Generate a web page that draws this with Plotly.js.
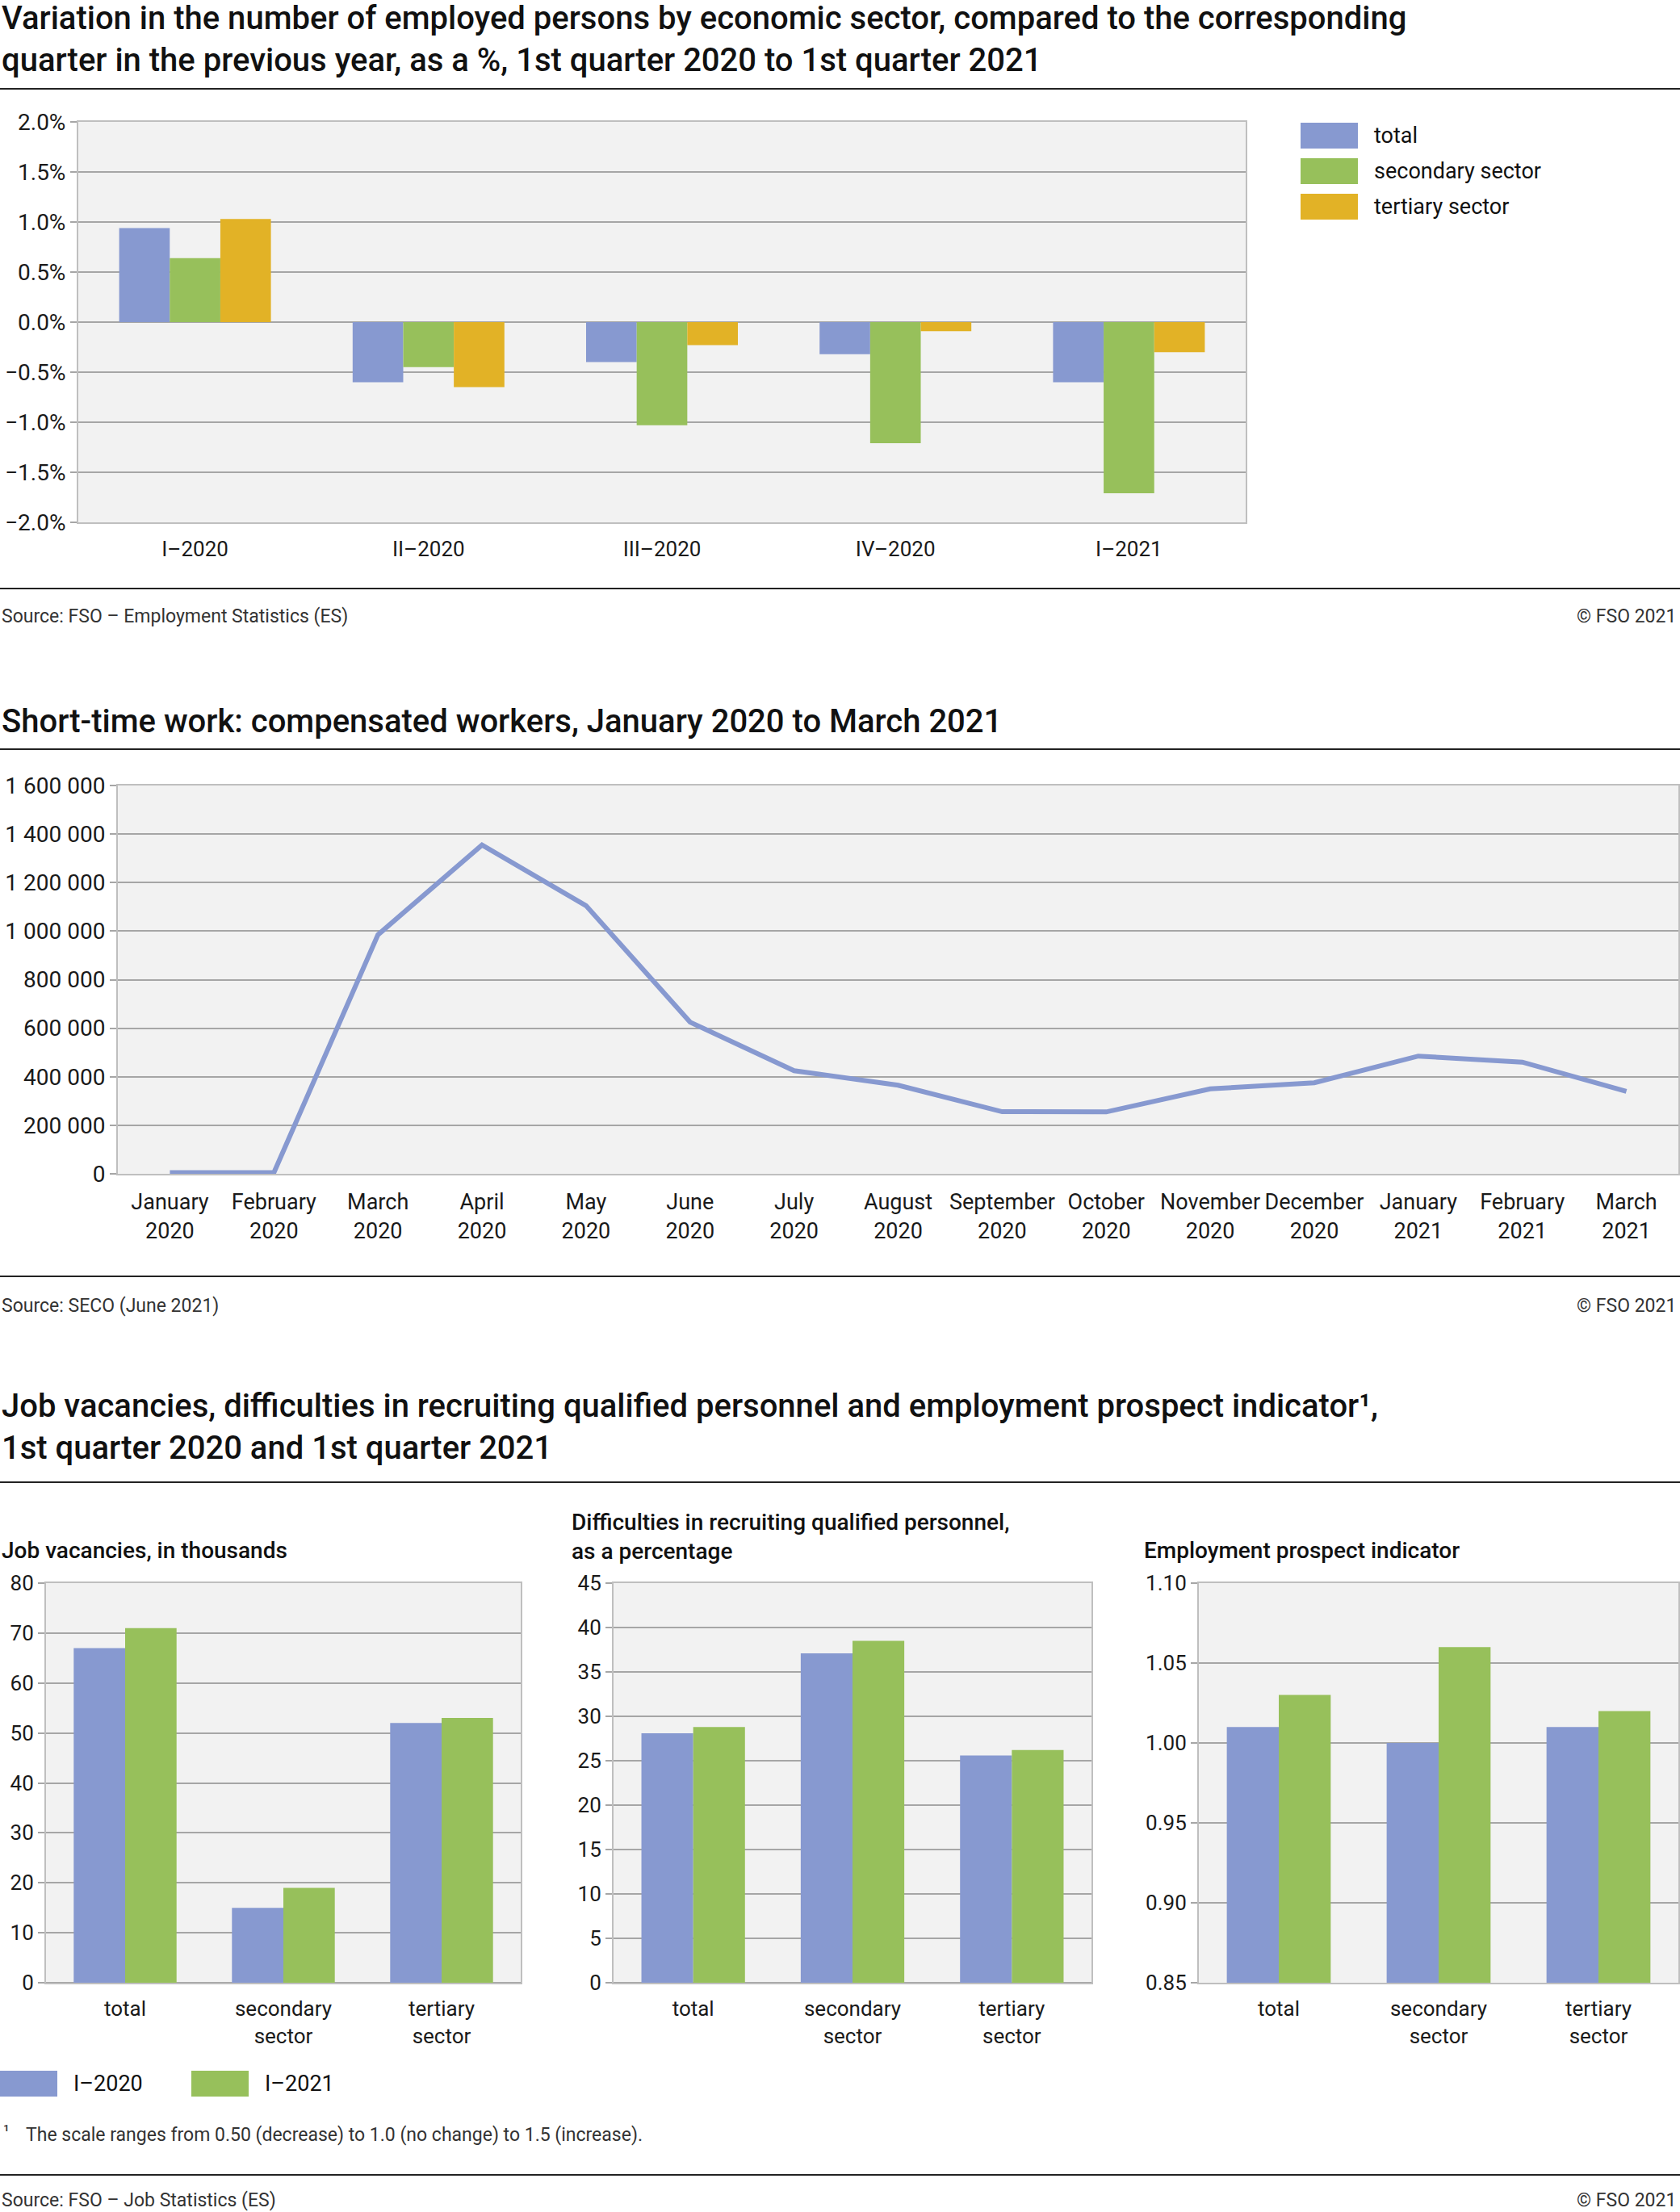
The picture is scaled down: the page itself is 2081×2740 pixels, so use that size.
<!DOCTYPE html>
<html>
<head>
<meta charset="utf-8">
<script src="https://cdn.plot.ly/plotly-3.0.1.min.js"></script>
<style>
  body { margin: 0; background: #fff; }
  #chart { width: 2081px; height: 2740px; }
</style>
</head>
<body>
<div id="chart"></div>
<script>
// chart 1: employed persons, change vs. same quarter of previous year (%)
var quarters = ['I–2020', 'II–2020', 'III–2020', 'IV–2020', 'I–2021'];
var sectorNames = ['total', 'secondary sector', 'tertiary sector'];
var empTotal = [0.94, -0.60, -0.40, -0.32, -0.60];
var empSecondary = [0.64, -0.45, -1.03, -1.21, -1.71];
var empTertiary = [1.03, -0.65, -0.23, -0.09, -0.30];

// chart 2: short-time work, compensated workers
var months = ['January<br>2020', 'February<br>2020', 'March<br>2020', 'April<br>2020', 'May<br>2020',
  'June<br>2020', 'July<br>2020', 'August<br>2020', 'September<br>2020', 'October<br>2020',
  'November<br>2020', 'December<br>2020', 'January<br>2021', 'February<br>2021', 'March<br>2021'];
var shortTimeWorkers = [5000, 5000, 985000, 1355000, 1105000, 625000, 425000, 365000,
  256000, 255000, 350000, 375000, 485000, 460000, 340000];

// chart 3: three small panels, I-2020 vs I-2021
var sectors3 = ['total', 'secondary<br>sector', 'tertiary<br>sector'];
var periodNames = ['I–2020', 'I–2021'];
var vacancies2020 = [67, 15, 52];
var vacancies2021 = [71, 19, 53];
var difficulties2020 = [28.1, 37.1, 25.6];
var difficulties2021 = [28.8, 38.5, 26.2];
var prospect2020 = [1.01, 1.00, 1.01];
var prospect2021 = [1.03, 1.06, 1.02];

var BLUE = '#8799d0', GREEN = '#97c05b', YELLOW = '#e2b226';
var W = 2081, H = 2740;
function px(x) { return x / W; }
function py(y) { return 1 - y / H; }

function bar(x, y, name, color, ax) {
  return { type: 'bar', x: x, y: y, name: name, marker: { color: color, line: { width: 0 } },
    xaxis: 'x' + ax, yaxis: 'y' + ax, showlegend: false, hoverinfo: 'x+y+name' };
}

var data = [
  bar(quarters, empTotal, sectorNames[0], BLUE, ''),
  bar(quarters, empSecondary, sectorNames[1], GREEN, ''),
  bar(quarters, empTertiary, sectorNames[2], YELLOW, ''),
  { type: 'scatter', mode: 'lines', x: months, y: shortTimeWorkers, name: 'compensated workers',
    line: { color: BLUE, width: 6 }, xaxis: 'x2', yaxis: 'y2', showlegend: false },
  bar(sectors3, vacancies2020, periodNames[0], BLUE, '3'),
  bar(sectors3, vacancies2021, periodNames[1], GREEN, '3'),
  bar(sectors3, difficulties2020, periodNames[0], BLUE, '4'),
  bar(sectors3, difficulties2021, periodNames[1], GREEN, '4'),
  bar(sectors3, prospect2020, periodNames[0], BLUE, '5'),
  bar(sectors3, prospect2021, periodNames[1], GREEN, '5')
];

function xAx(left, right, anchor, size, standoff, n) {
  return { domain: [px(left), px(right)], anchor: anchor, type: 'category',
    range: [-0.5, n - 0.5],
    showline: true, mirror: true, linecolor: '#bfbfbf', linewidth: 2,
    showgrid: false, ticks: '', tickfont: { size: size }, ticklabelstandoff: standoff,
    fixedrange: true };
}
function yAx(top, bottom, anchor, range, dtick, fmt, suffix, size) {
  return { domain: [py(bottom), py(top)], anchor: anchor, range: range, dtick: dtick,
    tick0: range[0], tickformat: fmt, ticksuffix: suffix || '',
    showline: true, mirror: true, linecolor: '#bfbfbf', linewidth: 2,
    gridcolor: '#a6a6a6', gridwidth: 2, zeroline: true, zerolinecolor: '#a6a6a6', zerolinewidth: 2,
    ticks: 'outside', ticklen: 8, tickcolor: '#a6a6a6', tickwidth: 2,
    tickfont: { size: size || 26 }, fixedrange: true };
}

var anns = [];
function note(text, x, y, o) {
  o = o || {};
  anns.push({ text: text, xref: 'paper', yref: 'paper', x: px(x), y: py(y),
    xanchor: o.xa || 'left', yanchor: 'middle', align: o.xa || 'left', showarrow: false,
    font: { size: o.size || 26, weight: o.weight || 400, color: o.color || '#111' } });
}

// titles
note('Variation in the number of employed persons by economic sector, compared to the corresponding<br>quarter in the previous year, as a %, 1st quarter 2020 to 1st quarter 2021',
  0, 49, { size: 40, weight: 500 });
note('Short-time work: compensated workers, January 2020 to March 2021', 0, 893, { size: 40, weight: 500 });
note('Job vacancies, difficulties in recruiting qualified personnel and employment prospect indicator¹,<br>1st quarter 2020 and 1st quarter 2021',
  0, 1767, { size: 40, weight: 500 });
note('Job vacancies, in thousands', 0, 1920, { size: 28, weight: 500 });
note('Difficulties in recruiting qualified personnel,<br>as a percentage', 706, 1903, { size: 28, weight: 500 });
note('Employment prospect indicator', 1415, 1920, { size: 28, weight: 500 });

// sources
note('Source: FSO – Employment Statistics (ES)', 0, 763, { size: 23, color: '#333' });
note('© FSO 2021', 2078, 763, { size: 23, color: '#333', xa: 'right' });
note('Source: SECO (June 2021)', 0, 1617, { size: 23, color: '#333' });
note('© FSO 2021', 2078, 1617, { size: 23, color: '#333', xa: 'right' });
note('Source: FSO – Job Statistics (ES)', 0, 2725, { size: 23, color: '#333' });
note('© FSO 2021', 2078, 2725, { size: 23, color: '#333', xa: 'right' });
note('¹', 2, 2640, { size: 21, color: '#333' });
note('The scale ranges from 0.50 (decrease) to 1.0 (no change) to 1.5 (increase).', 30, 2644, { size: 23, color: '#333' });

var shapes = [];
[110, 729, 928, 1581, 1836, 2694].forEach(function (y) {
  shapes.push({ type: 'line', xref: 'paper', yref: 'paper', x0: 0, x1: 1, y0: py(y), y1: py(y),
    line: { color: '#222', width: 2 } });
});
function swatch(x0, x1, yc, color, label) {
  shapes.push({ type: 'rect', xref: 'paper', yref: 'paper', x0: px(x0), x1: px(x1),
    y0: py(yc + 16), y1: py(yc - 16), fillcolor: color, line: { width: 0 } });
  note(label, x1 + 18, yc, { size: 27 });
}
// legend chart 1
[BLUE, GREEN, YELLOW].forEach(function (c, i) { swatch(1611, 1682, 168 + 44 * i, c, sectorNames[i]); });
// legend chart 3
swatch(0, 71, 2581, BLUE, periodNames[0]);
swatch(237, 308, 2581, GREEN, periodNames[1]);

var layout = {
  width: W, height: H,
  margin: { l: 0, r: 0, t: 0, b: 0 },
  paper_bgcolor: '#ffffff', plot_bgcolor: '#f2f2f2',
  font: { family: 'Roboto, sans-serif', size: 26, color: '#1a1a1a' },
  separators: '. ',
  barmode: 'group', bargap: 0.35, bargroupgap: 0,
  showlegend: false,
  xaxis: xAx(97, 1543, 'y', 26, 9, quarters.length),
  yaxis: yAx(151, 647, 'x', [-2, 2], 0.5, '.1f', '%', 28),
  xaxis2: xAx(146, 2079, 'y2', 27, 10, months.length),
  yaxis2: yAx(973, 1454, 'x2', [0, 1600000], 200000, ',d', '', 28),
  xaxis3: xAx(57, 645, 'y3', 26, 8, sectors3.length),
  yaxis3: yAx(1961, 2456, 'x3', [0, 80], 10, 'd'),
  xaxis4: xAx(760, 1352, 'y4', 26, 8, sectors3.length),
  yaxis4: yAx(1961, 2456, 'x4', [0, 45], 5, 'd'),
  xaxis5: xAx(1485, 2079, 'y5', 26, 8, sectors3.length),
  yaxis5: yAx(1961, 2456, 'x5', [0.85, 1.10], 0.05, '.2f'),
  annotations: anns,
  shapes: shapes
};

Plotly.newPlot('chart', data, layout, { displayModeBar: false, staticPlot: true });
</script>
</body>
</html>
